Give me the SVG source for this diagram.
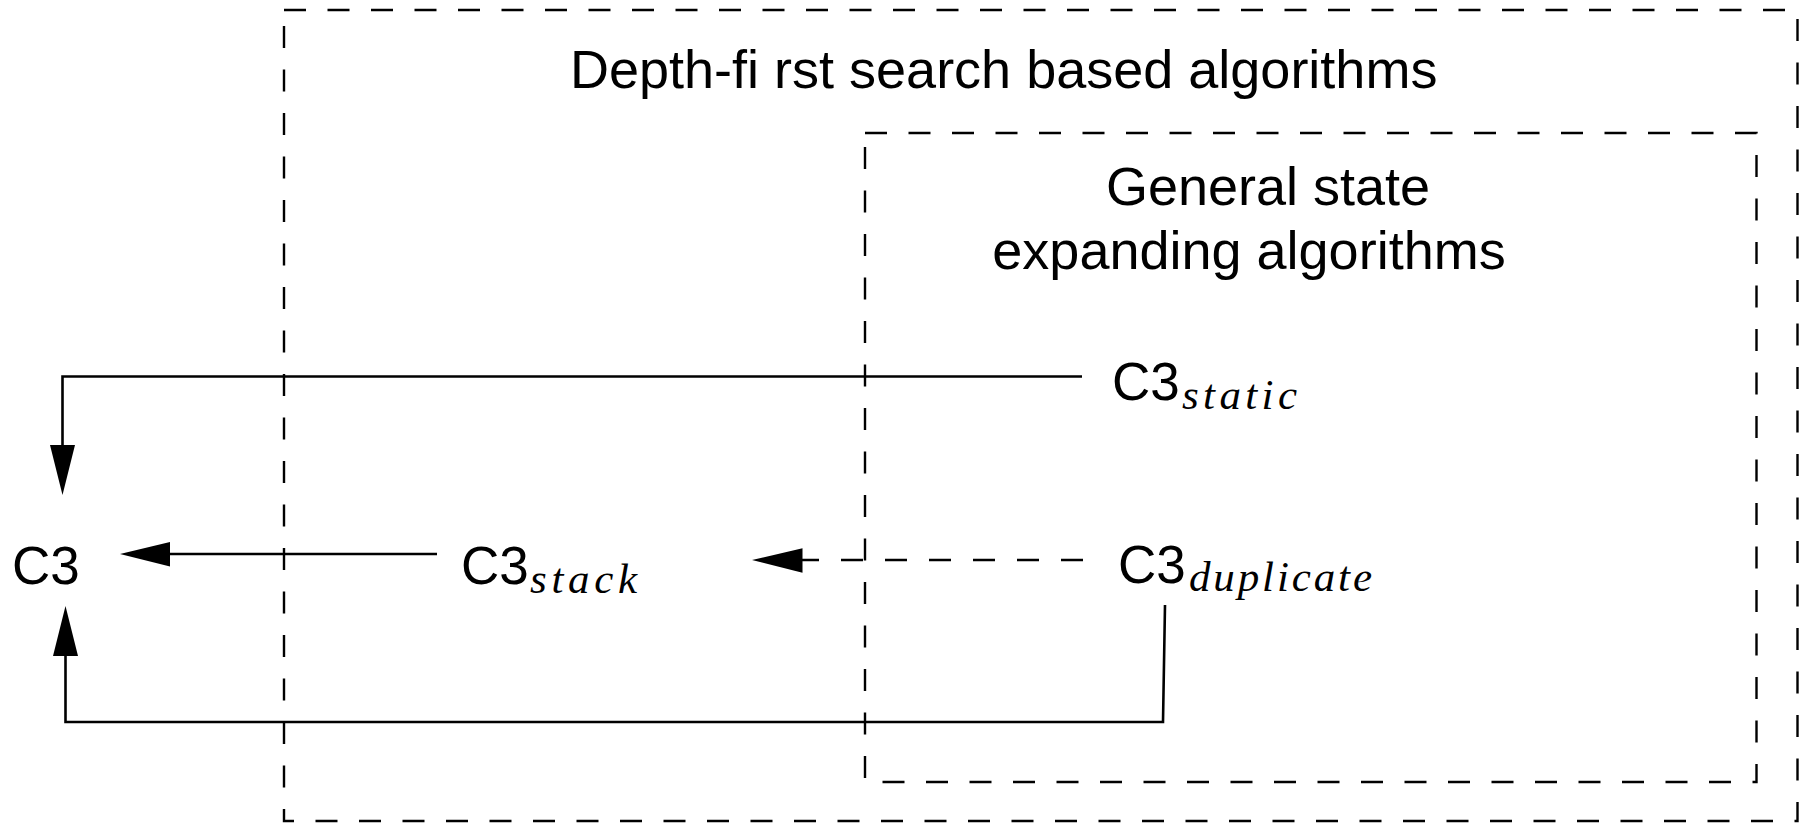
<svg xmlns="http://www.w3.org/2000/svg" width="1809" height="823" viewBox="0 0 1809 823">
  <style>
    .bg { fill: #ffffff; }
    .region { fill: none; stroke: #000; stroke-width: 2.4; stroke-dasharray: 22 21.5; }
    .label { font-family: "Liberation Sans", Arial, sans-serif; font-size: 54px; fill: #000; }
    .node { font-family: "Liberation Sans", Arial, sans-serif; font-size: 53px; fill: #000; }
    .sub { font-family: "Liberation Serif", "Times New Roman", serif; font-style: italic; font-size: 43px; fill: #000; }
    .edge { fill: none; stroke: #000; stroke-width: 2.6; }
    .edge-dashed { fill: none; stroke: #000; stroke-width: 2.3; stroke-dasharray: 22 22; }
    .head { fill: #000; stroke: none; }
  </style>

  <rect class="bg" x="0" y="0" width="1809" height="823"/>

  <!-- Outer grouping: depth-first search based algorithms -->
  <g id="region-dfs">
    <rect class="region" x="284" y="10" width="1513.5" height="811"/>
    <text class="label" x="570" y="88">Depth-fi rst search based algorithms</text>
  </g>

  <!-- Inner grouping: general state expanding algorithms -->
  <g id="region-general">
    <rect class="region" x="865" y="133" width="891.5" height="649"/>
    <text class="label" x="1268" y="205" text-anchor="middle">General state</text>
    <text class="label" x="1249" y="269" text-anchor="middle">expanding algorithms</text>
  </g>

  <!-- Connectors -->
  <g id="connectors">
    <!-- C3_static to C3 -->
    <path class="edge" d="M1082,376.5 H62.5 V446"/>
    <polygon class="head" points="50,445 75,445 62.5,495"/>

    <!-- C3_stack to C3 -->
    <path class="edge" d="M437,554 H168"/>
    <polygon class="head" points="170,542 170,566.5 120,554"/>

    <!-- C3_duplicate to C3_stack (dashed) -->
    <path class="edge-dashed" d="M1083,560 H802"/>
    <polygon class="head" points="802.5,548.3 802.5,572.7 752,560"/>

    <!-- C3_duplicate to C3 via bottom route -->
    <path class="edge" d="M1165,605 L1163,722 H65.5 V655"/>
    <polygon class="head" points="53,656 78,656 65.5,606"/>
  </g>

  <!-- Nodes -->
  <g id="node-c3">
    <text class="node" x="12" y="584">C3</text>
  </g>

  <g id="node-c3-stack">
    <text class="node" x="461" y="584">C3</text>
    <text class="sub" x="530" y="593" textLength="107" lengthAdjust="spacing">stack</text>
  </g>

  <g id="node-c3-static">
    <text class="node" x="1112" y="400">C3</text>
    <text class="sub" x="1182" y="409" textLength="115" lengthAdjust="spacing">static</text>
  </g>

  <g id="node-c3-duplicate">
    <text class="node" x="1118" y="583">C3</text>
    <text class="sub" x="1189" y="591" textLength="183" lengthAdjust="spacing">duplicate</text>
  </g>
</svg>
